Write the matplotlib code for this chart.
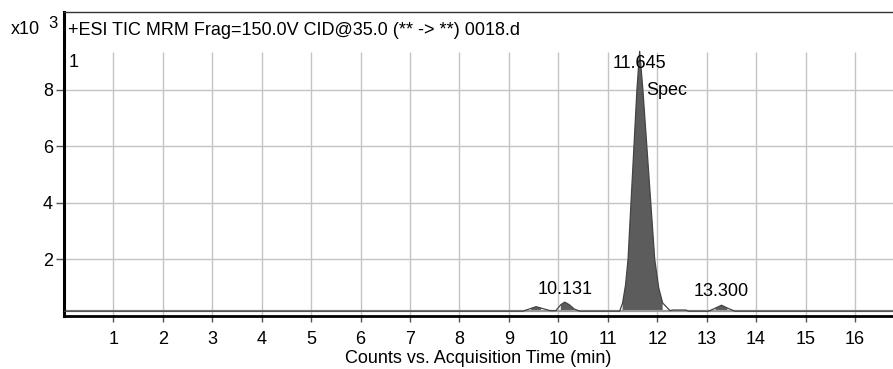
import numpy as np
import matplotlib.pyplot as plt

# chromatogram trace (time in min, counts x10^3)
times = [0.0, 9.28, 9.45, 9.55, 9.65, 9.83, 9.95, 10.05, 10.13, 10.22, 10.32, 10.43,
         11.24, 11.30, 11.36, 11.41, 11.47, 11.53, 11.59, 11.645, 11.71, 11.79, 11.87,
         11.95, 12.03, 12.11, 12.26, 12.32, 12.58, 12.64, 13.04, 13.18, 13.30, 13.42,
         13.57, 16.8]
counts = [0.17, 0.17, 0.27, 0.33, 0.28, 0.19, 0.19, 0.40, 0.49, 0.40, 0.25, 0.17,
          0.17, 0.46, 1.1, 2.0, 4.0, 6.0, 8.0, 9.35, 8.0, 6.0, 4.0,
          2.0, 1.0, 0.46, 0.19, 0.21, 0.21, 0.17, 0.17, 0.28, 0.38, 0.28,
          0.17, 0.17]
baseline = 0.17

peak_labels = ["10.131", "11.645", "13.300"]
peak_pos = [10.131, 11.645, 13.300]
peak_text_y = [0.62, 8.62, 0.55]

xticks = list(range(1, 17))
yticks = [2, 4, 6, 8]
header = "+ESI TIC MRM Frag=150.0V CID@35.0 (** -> **) 0018.d"
plot_top = 9.33
x_max = 16.77
y_max = 10.74

plt.rcParams['font.family'] = ['Liberation Sans', 'DejaVu Sans']
fs = 13

fig = plt.figure(figsize=(8.93, 3.69), dpi=100)
ax = fig.add_axes([64 / 893, 53 / 369, 1 - 64 / 893, 304 / 369])
ax.set_xlim(0, x_max)
ax.set_ylim(0, y_max)

# grid (only inside the plotting band, below the header)
grid_c = '#c4c4c4'
ax.vlines(xticks, 0, plot_top, colors=grid_c, lw=1.0, zorder=1)
ax.hlines(yticks, 0, x_max, colors=grid_c, lw=1.0, zorder=1)

t = np.array(times)
c = np.array(counts)
ax.fill_between(t, baseline, c, where=(c - baseline) > 0.05, color='#5c5c5c',
                lw=0, zorder=2)
ax.plot(t, c, color='#444444', lw=0.9, zorder=3)
ax.axhline(baseline, color='#9a9a9a', lw=1.6, zorder=2)

for lab, x, y in zip(peak_labels, peak_pos, peak_text_y):
    ax.text(x, y, lab, ha='center', va='bottom', fontsize=fs, zorder=4)
ax.text(11.78, 7.95, "Spec", ha='left', va='center', fontsize=fs, zorder=4)
ax.text(0.1, 8.95, "1", ha='left', va='center', fontsize=fs)
ax.text(0.08, 10.08, header, ha='left', va='center', fontsize=fs)

ax.spines['right'].set_visible(False)
ax.spines['left'].set_linewidth(2.2)
ax.spines['bottom'].set_linewidth(2.0)
ax.spines['top'].set_linewidth(1.0)
ax.spines['top'].set_color('#333333')

ax.set_xticks(xticks)
ax.set_yticks(yticks)
ax.tick_params(axis='both', labelsize=fs, length=6, width=1, color='#555555')
ax.tick_params(axis='x', pad=7, length=4)
ax.tick_params(axis='y', pad=2)
ax.set_xlabel("Counts vs. Acquisition Time (min)", fontsize=fs, labelpad=1.5)

fig.text(11 / 893, 1 - 29 / 369, "x10", fontsize=fs, ha='left', va='center')
fig.text(48 / 893, 1 - 23 / 369, "3", fontsize=12, ha='left', va='center')

fig.savefig("out.png", dpi=100)
